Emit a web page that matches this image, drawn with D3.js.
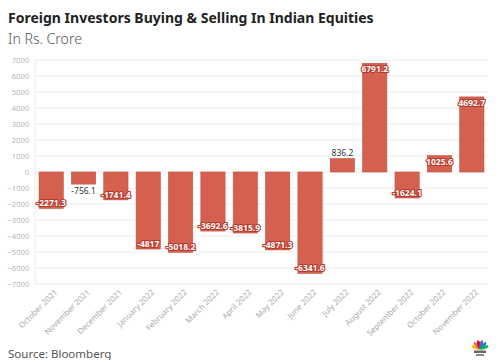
<!DOCTYPE html>
<html><head><meta charset="utf-8">
<script src="https://cdn.jsdelivr.net/npm/d3@7"></script>
<style>body{margin:0;background:#fff;}svg{display:block;}</style>
</head><body>
<svg id="c" width="501" height="360"></svg>
<script>
const categories = ["October 2021","November 2021","December 2021","January 2022","February 2022","March 2022","April 2022","May 2022","June 2022","July 2022","August 2022","September 2022","October 2022","November 2022"];
const values = [-2271.3,-756.1,-1741.4,-4817,-5018.2,-3692.6,-3815.9,-4871.3,-6341.6,836.2,6791.2,-1624.1,1025.6,4692.7];
const valueLabels = ["-2271.3","-756.1","-1741.4","-4817","-5018.2","-3692.6","-3815.9","-4871.3","-6341.6","836.2","6791.2","-1624.1","1025.6","4692.7"];
const yTicks = [7000,6000,5000,4000,3000,2000,1000,0,-1000,-2000,-3000,-4000,-5000,-6000,-7000];

(function(){
const svg = d3.select("#c");
const FONT = "'Noto Sans', 'Open Sans', sans-serif";
const pl = 35, pr = 488, pt = 60, pb = 284;
const x = d3.scaleBand().domain(categories).range([pl, pr]).paddingInner(0.25).paddingOuter(0.125);
const y = d3.scaleLinear().domain([-7000, 7000]).range([pb, pt]);

function fitText(sel, w){ const n = sel.node(); const l = n.getComputedTextLength(); const fs = parseFloat(sel.attr("font-size")); sel.attr("font-size", fs * w / l); }

const t = svg.append("text").attr("x", 8).attr("y", 23).attr("font-family", FONT).attr("font-weight", 700).attr("font-size", 15).attr("fill", "#222").text("Foreign Investors Buying & Selling In Indian Equities");
fitText(t, 366);
const st = svg.append("text").attr("x", 8).attr("y", 44).attr("font-family", FONT).attr("font-weight", 300).attr("font-size", 15).attr("fill", "#555").text("In Rs. Crore");
fitText(st, 74);

// grid
const g = svg.append("g");
g.selectAll("line.grid").data(yTicks).join("line").attr("x1", pl).attr("x2", pr).attr("y1", d => y(d)).attr("y2", d => y(d)).attr("stroke", "#eeeeee").attr("stroke-width", 1);
g.append("line").attr("x1", pl).attr("x2", pl).attr("y1", pt).attr("y2", pb).attr("stroke", "#eeeeee");

const yAxis = d3.axisLeft(y).tickValues(yTicks).tickFormat(d3.format("d")).tickSize(0).tickPadding(6);
const ya = svg.append("g").attr("transform", `translate(${pl},0)`).call(yAxis);
ya.select(".domain").remove();
ya.selectAll("text").attr("font-family", FONT).attr("font-size", 7.5).attr("fill", "#b5b5b5");

const xAxis = d3.axisBottom(x).tickSize(0).tickPadding(0);
const xa = svg.append("g").attr("transform", `translate(0,${pb + 6})`).call(xAxis);
xa.select(".domain").remove();
xa.selectAll("text").attr("font-family", FONT).attr("font-size", 8).attr("fill", "#aaaaaa")
  .attr("text-anchor", "end").attr("dy", "0.5em").attr("transform", "translate(4,0) rotate(-45)");

// bars
svg.append("g").selectAll("rect").data(values).join("rect")
  .attr("x", (d,i) => x(categories[i]))
  .attr("width", x.bandwidth())
  .attr("y", d => y(Math.max(0, d)))
  .attr("height", d => Math.abs(y(d) - y(0)))
  .attr("fill", "#d4604f").attr("stroke", "#c9503f").attr("stroke-width", 0.6);

// labels
svg.append("g").selectAll("text").data(values).join("text")
  .attr("x", (d,i) => x(categories[i]) + x.bandwidth()/2)
  .attr("text-anchor", "middle").attr("dominant-baseline", "central")
  .attr("font-family", FONT).attr("font-size", 8.5).attr("font-weight", 700)
  .each(function(d,i){
    const h = Math.abs(y(d) - y(0));
    const inside = h >= 15;
    const sel = d3.select(this);
    let yy;
    if (inside) yy = d < 0 ? y(d) - 5.5 : y(d) + 5.5;
    else yy = d < 0 ? y(d) + 6.5 : y(d) - 6.5;
    sel.attr("y", yy).text(valueLabels[i]);
    if (inside) sel.attr("fill", "#fff").attr("stroke", "#b8362a").attr("stroke-width", 2.2).attr("paint-order", "stroke").attr("stroke-linejoin", "round");
    else sel.attr("fill", "#333").attr("font-weight", 400).attr("stroke", "#fff").attr("stroke-width", 2).attr("paint-order", "stroke");
  });

svg.append("text").attr("x", 8).attr("y", 358).attr("font-family", FONT).attr("font-size", 11.5).attr("fill", "#555").text("Source: Bloomberg");

// small peacock logo
const logo = svg.append("g").attr("transform", "translate(480,349)");
const cols = ["#fcb711","#f37021","#cc004c","#6460aa","#0089d0","#0db14b"];
cols.forEach((c,i) => {
  const a = -70 + i * 28;
  logo.append("ellipse").attr("cx", 0).attr("cy", -4.5).attr("rx", 1.6).attr("ry", 4.5).attr("fill", c).attr("transform", `rotate(${a})`);
});
logo.append("rect").attr("x", -6).attr("y", 1.5).attr("width", 12).attr("height", 2.5).attr("fill", "#666");
logo.append("rect").attr("x", -4).attr("y", 5).attr("width", 8).attr("height", 2).attr("fill", "#888");
})();
</script>
</body></html>
